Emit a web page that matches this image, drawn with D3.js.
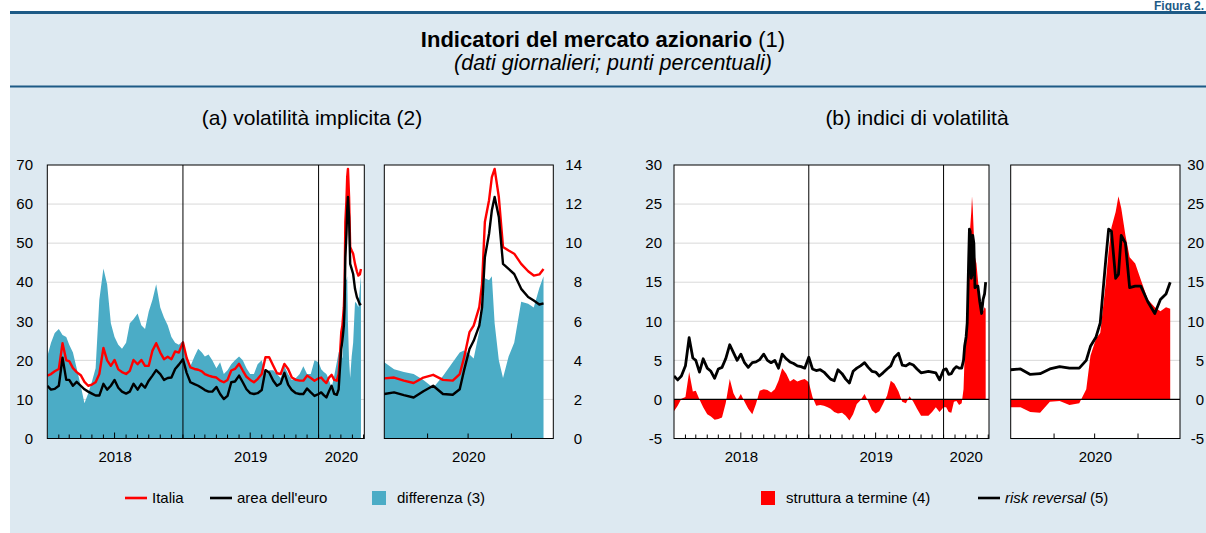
<!DOCTYPE html>
<html lang="it">
<head>
<meta charset="utf-8">
<title>Indicatori del mercato azionario</title>
<script src="https://cdn.jsdelivr.net/npm/d3@7"></script>
<style>
  body { margin: 0; background: #fff; }
  svg { display: block; font-family: "Liberation Sans", Arial, Helvetica, sans-serif; }
</style>
</head>
<body>
<div id="chart"></div>
<script>
// daily series, sampled from the published chart
const dates = [
  '2018-01-01', '2018-01-11', '2018-01-21', '2018-02-01', '2018-02-11', '2018-02-21',
  '2018-03-01', '2018-03-11', '2018-03-21', '2018-04-01', '2018-04-11', '2018-04-21',
  '2018-05-01', '2018-05-11', '2018-05-21', '2018-06-01', '2018-06-11', '2018-06-21',
  '2018-07-01', '2018-07-11', '2018-07-21', '2018-08-01', '2018-08-11', '2018-08-21',
  '2018-09-01', '2018-09-11', '2018-09-21', '2018-10-01', '2018-10-11', '2018-10-21',
  '2018-11-01', '2018-11-11', '2018-11-21', '2018-12-01', '2018-12-11', '2018-12-21',
  '2019-01-01', '2019-01-11', '2019-01-21', '2019-02-01', '2019-02-11', '2019-02-21',
  '2019-03-01', '2019-03-11', '2019-03-21', '2019-04-01', '2019-04-11', '2019-04-21',
  '2019-05-01', '2019-05-11', '2019-05-21', '2019-06-01', '2019-06-11', '2019-06-21',
  '2019-07-01', '2019-07-11', '2019-07-21', '2019-08-01', '2019-08-11', '2019-08-21',
  '2019-09-01', '2019-09-11', '2019-09-21', '2019-10-01', '2019-10-11', '2019-10-21',
  '2019-11-01', '2019-11-11', '2019-11-21', '2019-12-01', '2019-12-11', '2019-12-21',
  '2020-01-01', '2020-01-08', '2020-01-15', '2020-01-22', '2020-01-29', '2020-02-05',
  '2020-02-12', '2020-02-19', '2020-02-24', '2020-02-27', '2020-03-02', '2020-03-05',
  '2020-03-09', '2020-03-11', '2020-03-13', '2020-03-16', '2020-03-18', '2020-03-20',
  '2020-03-23', '2020-03-26', '2020-03-30', '2020-04-03', '2020-04-08', '2020-04-13',
  '2020-04-17', '2020-04-21', '2020-04-24',
];

// (a) implied volatility, left axis
const italia = [
  16.1, 16.5, 17.2, 17.8, 24.4, 20.0, 19.8, 18.0, 17.0, 16.2, 14.5, 13.5,
  13.8, 14.4, 16.5, 23.2, 20.0, 18.6, 20.1, 17.7, 17.0, 16.5, 17.3, 20.1,
  19.0, 20.1, 18.6, 18.6, 22.5, 24.4, 22.0, 20.3, 20.9, 20.3, 22.3, 22.0,
  24.6, 20.6, 18.2, 17.8, 17.6, 17.2, 16.5, 16.1, 15.8, 15.6, 14.8, 14.4,
  15.0, 17.4, 17.8, 19.1, 17.4, 15.8, 15.0, 14.4, 15.2, 16.5, 20.8, 20.8,
  18.6, 16.7, 16.5, 19.1, 17.8, 15.6, 15.0, 14.8, 14.8, 16.1, 15.5, 14.8,
  15.4, 15.6, 14.8, 14.2, 15.6, 16.3, 15.0, 14.8, 16.5, 20.5, 27.2, 28.9,
  33.6, 39.6, 55.4, 61.0, 66.9, 69.0, 61.8, 49.0, 48.1, 47.3, 44.7, 42.8,
  41.7, 42.0, 43.4,
];
const areaEuro = [
  13.5, 12.5, 12.7, 13.5, 20.7, 15.0, 15.0, 13.5, 14.5, 13.5, 12.6, 12.0,
  11.5, 11.0, 11.0, 14.0, 12.5, 13.5, 15.0, 13.0, 12.0, 11.5, 12.0, 14.0,
  12.5, 14.0, 13.0, 14.8, 16.1, 17.5, 16.5, 15.0, 15.5, 15.6, 17.8, 18.9,
  20.3, 16.8, 14.4, 13.9, 13.5, 12.9, 12.4, 12.0, 12.0, 13.2, 11.4, 10.1,
  10.9, 14.4, 14.6, 16.1, 14.4, 12.6, 11.6, 11.4, 11.6, 12.4, 17.5, 16.9,
  14.8, 13.5, 14.1, 16.8, 13.8, 12.4, 11.6, 11.4, 11.4, 12.8, 11.8, 10.9,
  11.4, 11.8, 11.1, 10.5, 12.1, 13.5, 11.4, 11.2, 12.6, 17.3, 22.9, 25.0,
  28.9, 33.6, 46.4, 52.4, 58.4, 61.8, 56.7, 44.7, 43.4, 42.1, 38.3, 36.2,
  35.3, 34.3, 34.6,
];
// right axis
const differenza = [
  4.2, 4.9, 5.4, 5.6, 5.3, 5.2, 4.8, 4.4, 3.6, 2.7, 1.8, 2.3,
  2.9, 3.6, 7.1, 8.7, 7.9, 5.9, 5.2, 4.8, 4.6, 4.9, 5.9, 6.1,
  6.4, 5.8, 5.6, 6.5, 7.1, 7.9, 6.7, 6.2, 5.8, 5.2, 4.9, 4.8,
  5.0, 4.2, 3.7, 4.2, 4.6, 4.4, 4.2, 4.3, 4.0, 3.6, 3.9, 3.3,
  3.5, 3.8, 4.0, 4.2, 4.0, 3.6, 3.3, 3.3, 3.8, 4.0, 3.3, 3.5,
  3.5, 3.3, 3.1, 3.7, 3.3, 3.0, 3.1, 3.3, 3.7, 3.3, 3.3, 4.0,
  3.9, 3.55, 3.4, 3.3, 3.0, 2.6, 3.2, 3.9, 4.4, 4.5, 4.3, 4.1,
  5.5, 6.7, 8.2, 8.1, 8.3, 5.9, 4.0, 3.1, 4.2, 4.9, 7.0, 6.9,
  6.7, 7.7, 8.3,
];

// (b) volatility indices
const struttura = [
  -1.5, -0.8, 0.1, 0.3, 3.5, 1.0, 1.1, 0.0, -1.0, -1.9, -2.2, -2.6,
  -2.5, -2.3, -0.5, 2.6, 0.8, -0.1, 0.7, -0.3, -1.2, -1.9, -0.6, 1.1,
  1.3, 1.2, 0.9, 1.3, 2.4, 4.0, 3.3, 2.3, 2.6, 2.3, 2.5, 2.6,
  2.2, 0.3, -0.8, -0.7, -0.8, -1.0, -1.2, -1.6, -1.8, -1.7, -2.1, -2.7,
  -1.9, -0.6, -0.1, 0.7, -0.3, -1.4, -1.8, -1.5, -0.6, 0.5, 2.4, 2.0,
  1.0, -0.3, -0.5, 0.4, -0.3, -1.2, -2.1, -2.1, -2.1, -1.6, -1.0, -1.6,
  -1.0, -1.0, -1.6, -1.7, -0.3, -0.2, -0.7, -0.5, 1.3, 5.6, 7.8, 8.5,
  15.0, 19.0, 22.0, 24.0, 26.0, 24.5, 21.0, 18.2, 17.4, 15.3, 12.8, 11.8,
  11.3, 11.8, 11.6,
];
const riskReversal = [
  3.0, 2.5, 3.0, 4.3, 7.9, 5.3, 5.0, 3.5, 5.2, 4.0, 3.6, 2.7,
  3.9, 4.1, 5.2, 7.0, 6.0, 5.0, 5.8, 4.7, 4.1, 4.7, 4.8, 5.1,
  5.8, 5.0, 4.7, 5.0, 4.0, 5.8, 5.2, 4.8, 4.6, 4.3, 4.2, 4.0,
  5.4, 3.9, 3.7, 3.8, 3.5, 3.0, 2.6, 2.4, 3.8, 3.3, 2.6, 2.1,
  3.6, 4.0, 4.3, 4.7, 4.1, 3.6, 3.5, 3.0, 3.4, 3.9, 4.3, 5.4,
  5.9, 4.4, 4.3, 4.6, 4.4, 3.9, 3.4, 3.5, 3.6, 3.5, 3.4, 2.5,
  3.8, 3.9, 3.2, 3.3, 3.9, 4.2, 4.0, 4.0, 5.0, 6.8, 8.0, 9.8,
  18.0, 21.8, 21.5, 15.5, 16.0, 21.0, 20.0, 14.3, 14.5, 14.5, 12.5, 11.0,
  12.8, 13.5, 15.0,
];

const leftTicks = [0, 10, 20, 30, 40, 50, 60, 70];
const diffTicks = [0, 2, 4, 6, 8, 10, 12, 14];
const volTicks = [-5, 0, 5, 10, 15, 20, 25, 30];
const yearLabels = ['2018', '2019', '2020'];
const yearBreaks = ['2019-01-01', '2020-01-01'];

const width = 1206;
const height = 533;
const plotTop = 165;
const plotBottom = 438.5;

const colors = {
  italia: '#ff0000',
  euro: '#000000',
  diff: '#4bacc6',
  term: '#ff0000',
  rr: '#000000',
  panel: '#dde9f1',
  rule: '#1d5a86',
  grid: '#d9d9d9',
};

const parseDate = d3.timeParse('%Y-%m-%d');
const rows = dates.map((d, i) => ({
  date: parseDate(d),
  italia: italia[i],
  euro: areaEuro[i],
  diff: differenza[i],
  term: struttura[i],
  rr: riskReversal[i],
}));

const mainDomain = [parseDate('2018-01-01'), parseDate('2020-05-03')];
const insetDomain = [parseDate('2020-01-01'), parseDate('2020-05-01')];

const yLeft = d3.scaleLinear().domain([0, 70]).range([plotBottom, plotTop]);
const yDiff = d3.scaleLinear().domain([0, 14]).range([plotBottom, plotTop]);
const yVol = d3.scaleLinear().domain([-5, 30]).range([plotBottom, plotTop]);

const svg = d3.select('#chart')
  .append('svg')
  .attr('width', width)
  .attr('height', height)
  .attr('xmlns', 'http://www.w3.org/2000/svg');

// background and header
svg.append('rect')
  .attr('x', 10).attr('y', 12)
  .attr('width', width - 10).attr('height', height - 12)
  .attr('fill', colors.panel);

svg.append('rect')
  .attr('x', 10).attr('y', 11)
  .attr('width', width - 10).attr('height', 3)
  .attr('fill', colors.rule);

svg.append('rect')
  .attr('x', 10).attr('y', 85.5)
  .attr('width', width - 10).attr('height', 2)
  .attr('fill', colors.rule);

svg.append('text')
  .attr('x', 1204).attr('y', 10)
  .attr('text-anchor', 'end')
  .attr('fill', colors.rule)
  .style('font-size', '12px')
  .style('font-weight', 'bold')
  .text('Figura 2.');

const title = svg.append('text')
  .attr('x', 603).attr('y', 47)
  .attr('text-anchor', 'middle')
  .style('font-size', '22px');
title.append('tspan').style('font-weight', 'bold').text('Indicatori del mercato azionario');
title.append('tspan').text(' (1)');

svg.append('text')
  .attr('x', 613).attr('y', 70)
  .attr('text-anchor', 'middle')
  .style('font-size', '21.5px')
  .style('font-style', 'italic')
  .text('(dati giornalieri; punti percentuali)');

svg.append('text')
  .attr('x', 312).attr('y', 125)
  .attr('text-anchor', 'middle')
  .style('font-size', '21px')
  .text('(a) volatilità implicita (2)');

svg.append('text')
  .attr('x', 917).attr('y', 125)
  .attr('text-anchor', 'middle')
  .style('font-size', '21px')
  .text('(b) indici di volatilità');

// one framed plot box; returns its x scale and a clipped layer for the marks
function addPanel(id, x0, x1, domain, gridValues, yScale) {
  const x = d3.scaleTime().domain(domain).range([x0, x1]);

  svg.append('rect')
    .attr('x', x0).attr('y', plotTop)
    .attr('width', x1 - x0).attr('height', plotBottom - plotTop)
    .attr('fill', '#fff');

  svg.append('g')
    .selectAll('line')
    .data(gridValues)
    .enter()
    .append('line')
    .attr('x1', x0).attr('x2', x1)
    .attr('y1', (d) => yScale(d)).attr('y2', (d) => yScale(d))
    .attr('stroke', colors.grid)
    .attr('stroke-width', 1);

  svg.append('clipPath')
    .attr('id', id)
    .append('rect')
    .attr('x', x0).attr('y', plotTop)
    .attr('width', x1 - x0).attr('height', plotBottom - plotTop);

  const plot = svg.append('g').attr('clip-path', `url(#${id})`);
  return { x, x0, x1, plot };
}

function finishPanel(p, isMain) {
  if (isMain) {
    svg.append('g')
      .selectAll('line')
      .data(yearBreaks.map(parseDate))
      .enter()
      .append('line')
      .attr('x1', (d) => p.x(d)).attr('x2', (d) => p.x(d))
      .attr('y1', plotTop).attr('y2', plotBottom)
      .attr('stroke', '#000')
      .attr('stroke-width', 1);
  }

  const months = d3.timeMonth.range(d3.timeMonth.offset(p.x.domain()[0], 1), p.x.domain()[1]);
  svg.append('g')
    .selectAll('line')
    .data(months)
    .enter()
    .append('line')
    .attr('x1', (d) => p.x(d)).attr('x2', (d) => p.x(d))
    .attr('y1', plotBottom)
    .attr('y2', (d) => plotBottom - (isMain ? (d.getMonth() === 6 ? 6 : 4) : 5))
    .attr('stroke', '#000')
    .attr('stroke-width', 1);

  svg.append('rect')
    .attr('x', p.x0).attr('y', plotTop)
    .attr('width', p.x1 - p.x0).attr('height', plotBottom - plotTop)
    .attr('fill', 'none')
    .attr('stroke', '#000')
    .attr('stroke-width', 1);

  // year labels centred on the part of each year that is shown
  const [d0, d1] = p.x.domain();
  const labels = yearLabels
    .map((y) => {
      const s = d3.max([parseDate(`${y}-01-01`), d0]);
      const e = d3.min([parseDate(`${+y + 1}-01-01`), d1]);
      return { y, s, e };
    })
    .filter((d) => d.s < d.e);

  svg.append('g')
    .selectAll('text')
    .data(labels)
    .enter()
    .append('text')
    .attr('x', (d) => (p.x(d.s) + p.x(d.e)) / 2)
    .attr('y', 462)
    .attr('text-anchor', 'middle')
    .style('font-size', '15px')
    .text((d) => d.y);
}

function yLabels(values, scale, xPos) {
  svg.append('g')
    .selectAll('text')
    .data(values)
    .enter()
    .append('text')
    .attr('x', xPos)
    .attr('y', (d) => scale(d))
    .attr('dy', '0.35em')
    .attr('text-anchor', 'end')
    .style('font-size', '15px')
    .text((d) => d);
}

// ---- panel (a)
const lineItalia = (x) => d3.line().x((d) => x(d.date)).y((d) => yLeft(d.italia));
const lineEuro = (x) => d3.line().x((d) => x(d.date)).y((d) => yLeft(d.euro));
const areaDiff = (x) => d3.area().x((d) => x(d.date)).y0(yDiff(0)).y1((d) => yDiff(d.diff));

function drawVolatility(p) {
  p.plot.append('path')
    .datum(rows)
    .attr('d', areaDiff(p.x))
    .attr('fill', colors.diff);

  p.plot.append('path')
    .datum(rows)
    .attr('d', lineItalia(p.x))
    .attr('fill', 'none')
    .attr('stroke', colors.italia)
    .attr('stroke-width', 2.4)
    .attr('stroke-linejoin', 'round');

  p.plot.append('path')
    .datum(rows)
    .attr('d', lineEuro(p.x))
    .attr('fill', 'none')
    .attr('stroke', colors.euro)
    .attr('stroke-width', 2.4)
    .attr('stroke-linejoin', 'round');
}

const aMain = addPanel('clip-a-main', 47.3, 364.3, mainDomain, leftTicks.slice(1, -1), yLeft);
drawVolatility(aMain);
finishPanel(aMain, true);

const aInset = addPanel('clip-a-inset', 384.3, 553.3, insetDomain, diffTicks.slice(1, -1), yDiff);
drawVolatility(aInset);
finishPanel(aInset, false);

yLabels(leftTicks, yLeft, 33);
yLabels(diffTicks, yDiff, 582);

// ---- panel (b)
const areaTerm = (x) => d3.area().x((d) => x(d.date)).y0(yVol(0)).y1((d) => yVol(d.term));
const lineRR = (x) => d3.line().x((d) => x(d.date)).y((d) => yVol(d.rr));

function drawIndices(p) {
  p.plot.append('path')
    .datum(rows)
    .attr('d', areaTerm(p.x))
    .attr('fill', colors.term);

  p.plot.append('path')
    .datum(rows)
    .attr('d', lineRR(p.x))
    .attr('fill', 'none')
    .attr('stroke', colors.rr)
    .attr('stroke-width', 2.8)
    .attr('stroke-linejoin', 'round');

  svg.append('line')
    .attr('x1', p.x0).attr('x2', p.x1)
    .attr('y1', yVol(0)).attr('y2', yVol(0))
    .attr('stroke', '#000')
    .attr('stroke-width', 1.2);
}

const bMain = addPanel('clip-b-main', 674, 989, mainDomain, [5, 10, 15, 20, 25], yVol);
drawIndices(bMain);
finishPanel(bMain, true);

const bInset = addPanel('clip-b-inset', 1010.7, 1180, insetDomain, [5, 10, 15, 20, 25], yVol);
drawIndices(bInset);
finishPanel(bInset, false);

yLabels(volTicks, yVol, 662);
yLabels(volTicks, yVol, 1204);

// ---- legends
const legendY = 498;

function legendLine(x, color, label, italicPart) {
  svg.append('line')
    .attr('x1', x).attr('x2', x + 22)
    .attr('y1', legendY).attr('y2', legendY)
    .attr('stroke', color)
    .attr('stroke-width', 2.6);
  const t = svg.append('text')
    .attr('x', x + 27).attr('y', legendY + 5)
    .style('font-size', '15px');
  if (italicPart) t.append('tspan').style('font-style', 'italic').text(italicPart);
  t.append('tspan').text(label);
}

function legendBox(x, color, label) {
  svg.append('rect')
    .attr('x', x).attr('y', legendY - 7)
    .attr('width', 14).attr('height', 14)
    .attr('fill', color);
  svg.append('text')
    .attr('x', x + 25).attr('y', legendY + 5)
    .style('font-size', '15px')
    .text(label);
}

legendLine(125, colors.italia, 'Italia');
legendLine(210, colors.euro, "area dell'euro");
legendBox(372, colors.diff, 'differenza (3)');
legendBox(761, colors.term, 'struttura a termine (4)');
legendLine(978, colors.rr, ' (5)', 'risk reversal');
</script>
</body>
</html>
